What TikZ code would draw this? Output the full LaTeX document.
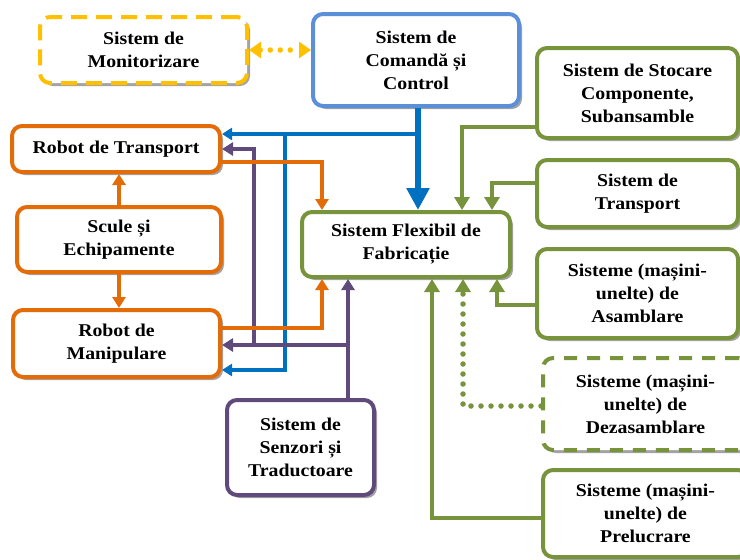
\documentclass[tikz,border=0pt]{standalone}
\usepackage{fontspec}
\setmainfont{Liberation Serif}[FakeStretch=1.1]
\usetikzlibrary{arrows.meta,shadows,calc}
\definecolor{cOr}{HTML}{E36C09}
\definecolor{cBl}{HTML}{0070C0}
\definecolor{cBb}{HTML}{5B8FD8}
\definecolor{cGr}{HTML}{77933C}
\definecolor{cPu}{HTML}{604A7B}
\definecolor{cYe}{HTML}{FFC000}
\tikzset{
  box/.style={draw, rounded corners=10pt, fill=white, line width=4pt, align=center,
    font=\fontsize{18}{23}\selectfont\bfseries, inner sep=0pt,
    drop shadow={shadow xshift=3pt, shadow yshift=-3pt, fill=black!45, opacity=0.8}},
  orbox/.style={box, draw=cOr},
  grbox/.style={box, draw=cGr},
  orline/.style={cOr, line width=3.8pt, -{Triangle[length=11pt,width=13pt]}},
  puline/.style={cPu, line width=3.8pt, -{Triangle[length=11pt,width=13pt]}},
  blline/.style={cBl, line width=3.8pt, -{Triangle[length=10pt,width=12pt]}},
  blmain/.style={cBl, line width=5.5pt, -{Triangle[length=22pt,width=22pt]}},
  grline/.style={cGr, line width=4.5pt, -{Triangle[length=13pt,width=15pt]}},
}
\begin{document}
\begin{tikzpicture}[x=1pt,y=-1pt]
\useasboundingbox (0,0) rectangle (740,560);
\fill[white] (0,0) rectangle (740,560);
% nodes
\node[box, draw=cYe, dash pattern=on 16pt off 9pt, minimum width=207pt, minimum height=66pt] (mon) at (143.5,50) {Sistem de\\Monitorizare};
\node[box, draw=cBb, minimum width=206pt, minimum height=92pt] (cmd) at (416,60) {Sistem de\\Comandă și\\Control};
\node[grbox, minimum width=201pt, minimum height=90pt] (sto) at (637.5,93) {Sistem de Stocare\\Componente,\\Subansamble};
\node[grbox, minimum width=201pt, minimum height=67pt] (trr) at (637.5,193.5) {Sistem de\\Transport};
\node[grbox, minimum width=201pt, minimum height=89pt] (asm) at (637.5,293.5) {Sisteme (mașini-\\unelte) de\\Asamblare};
\node[grbox, dash pattern=on 13pt off 10pt, minimum width=205pt, minimum height=92pt] (dez) at (645.5,404) {Sisteme (mașini-\\unelte) de\\Dezasamblare};
\node[grbox, minimum width=205pt, minimum height=87pt] (pre) at (645.5,513.5) {Sisteme (mașini-\\unelte) de\\Prelucrare};
\node[grbox, minimum width=208pt, minimum height=65pt] (fsf) at (406,244.5) {Sistem Flexibil de\\Fabricație};
\node[orbox, minimum width=208pt, minimum height=46pt] (rt) at (116,149) {Robot de Transport};
\node[orbox, minimum width=204pt, minimum height=65pt] (sc) at (119,239.5) {Scule și\\Echipamente};
\node[orbox, minimum width=207pt, minimum height=67pt] (rm) at (116.5,343.5) {Robot de\\Manipulare};
\node[box, draw=cPu, minimum width=147pt, minimum height=95pt] (sen) at (300.5,447.5) {Sistem de\\Senzori și\\Traductoare};
% yellow dotted
\draw[cYe, line width=5.5pt, line cap=round, dash pattern=on 0pt off 10pt,
  {Triangle[length=12pt,width=16pt]}-{Triangle[length=12pt,width=16pt]}]
  (mon.east) -- (mon.east -| cmd.west);
% blue
\coordinate (b1) at (418,134);
\coordinate (b2) at (285,134);
\draw[blmain] ([xshift=2pt]cmd.south) -- ([xshift=2pt]cmd.south |- fsf.north);
\draw[blline] (b1) -- ([yshift=15pt]rt.east);
\draw[blline] (b2) |- ([yshift=-26.5pt]rm.east);
% purple
\coordinate (p1) at (348,345);
\coordinate (p2) at (254,345);
\draw[puline] ([xshift=47.5pt]sen.north) -- ([xshift=47.5pt]sen.north |- fsf.south);
\draw[puline] (p1) -- (p1 -| rm.east);
\draw[puline] (p2) |- (rt.east);
% orange
\draw[orline] ([yshift=-13pt]rt.east) -| ([xshift=-84pt]fsf.north);
\draw[orline] ([yshift=15.5pt]rm.east) -| ([xshift=-84pt]fsf.south);
\draw[orline] (sc.north) -- (sc.north |- rt.south);
\draw[orline] (sc.south) -- (sc.south |- rm.north);
% green
\draw[grline] ([yshift=-34pt]sto.west) -| ([xshift=56pt]fsf.north);
\draw[grline] ([yshift=10.5pt]trr.west) -| ([xshift=86pt]fsf.north);
\draw[grline] ([yshift=-11.5pt]asm.west) -| ([xshift=91pt]fsf.south);
\draw[grline, line width=5.5pt, line cap=round, dash pattern=on 0pt off 10pt] ([yshift=-2pt]dez.west) -| ([xshift=57pt]fsf.south);
\draw[grline] ([yshift=-4.5pt]pre.west) -| ([xshift=26pt]fsf.south);
\end{tikzpicture}
\end{document}
